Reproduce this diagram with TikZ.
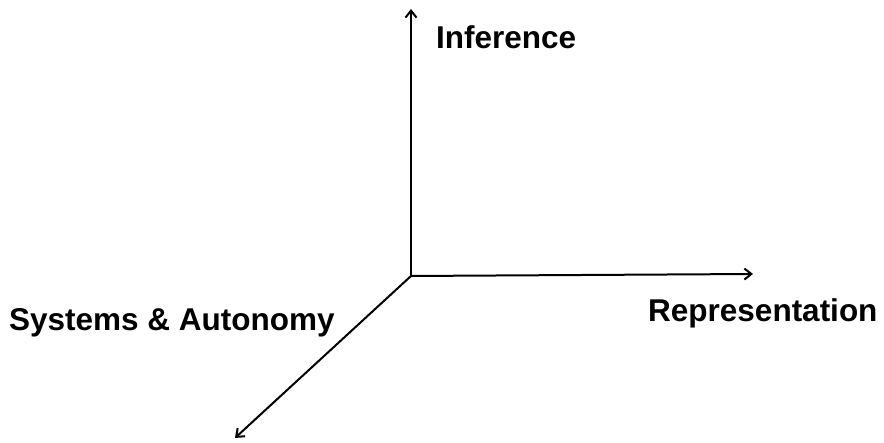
\documentclass[tikz,border=0pt]{standalone}
\usepackage{fontspec}
\setmainfont{Liberation Sans}
\usetikzlibrary{arrows.meta, positioning}

\begin{document}
\begin{tikzpicture}[x=1pt, y=-1pt,
    axis/.style={line width=2pt, -{Straight Barb[length=7pt, width=11pt, line width=2pt]}},
    axislabel/.style={font=\fontsize{31.5}{38}\selectfont\bfseries, inner sep=0pt, anchor=base west}]
  \useasboundingbox (0,0) rectangle (884,443);
  % origine et extremites des trois axes
  \coordinate (O) at (411,276);
  \coordinate (infTip) at (411,9);
  \coordinate (repTip) at (753,274);
  \coordinate (sysTip) at (235,438);
  \draw[axis] (O) -- (infTip);
  \draw[axis] (O) -- (repTip);
  \draw[axis] (O) -- (sysTip);
  \node[axislabel] (inf) at (436,49) {Inference};
  \node[axislabel] (rep) at (648,322) {Representation};
  \node[axislabel] (sys) at (9,331) {Systems \& Autonomy};
\end{tikzpicture}
\end{document}
